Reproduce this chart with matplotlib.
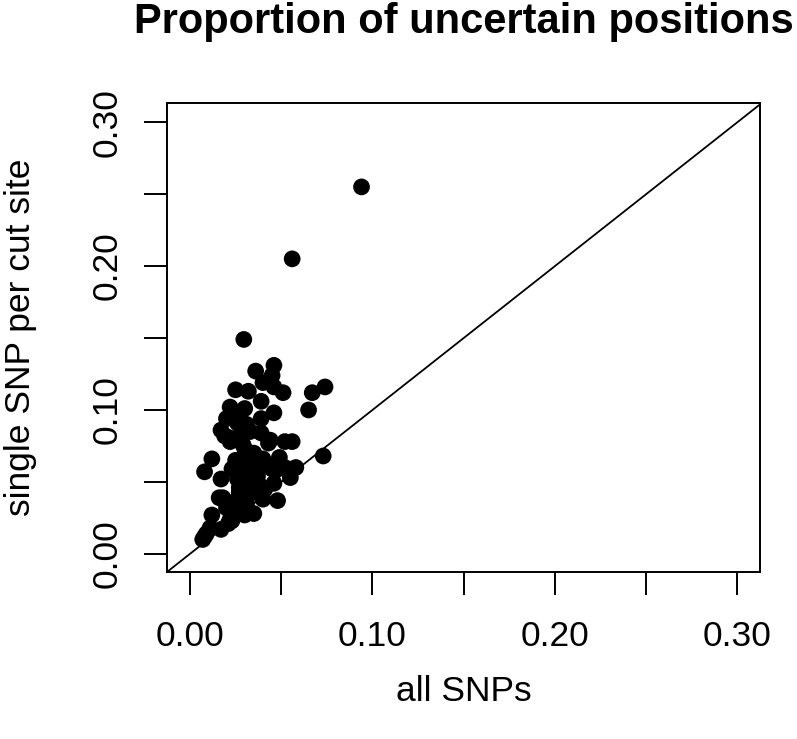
import matplotlib
matplotlib.use("Agg")
import matplotlib.pyplot as plt
import numpy as np

all_snps = [0.094, 0.056, 0.0295, 0.036, 0.046, 0.045, 0.040, 0.046, 0.051, 0.025,
            0.032, 0.039, 0.067, 0.074, 0.065, 0.022, 0.030, 0.046, 0.020, 0.027,
            0.039, 0.019, 0.028, 0.022, 0.039, 0.044, 0.052, 0.056, 0.030, 0.030,
            0.040, 0.049, 0.012, 0.008, 0.073, 0.058, 0.055, 0.023, 0.032, 0.045,
            0.017, 0.026, 0.037, 0.046, 0.041, 0.027, 0.032, 0.018, 0.040, 0.048,
            0.031, 0.012, 0.026, 0.035, 0.030, 0.022, 0.017, 0.011, 0.008, 0.009,
            0.028, 0.031, 0.033, 0.029, 0.031, 0.028, 0.033, 0.029, 0.034, 0.030,
            0.027, 0.033, 0.036, 0.038, 0.024, 0.020, 0.029, 0.035, 0.025, 0.042,
            0.017, 0.021, 0.026, 0.043, 0.047, 0.052, 0.016, 0.023, 0.007, 0.021]
single_snp = [0.255, 0.205, 0.149, 0.127, 0.131, 0.124, 0.119, 0.116, 0.112, 0.114,
              0.113, 0.106, 0.112, 0.116, 0.100, 0.102, 0.101, 0.098, 0.094, 0.094,
              0.094, 0.082, 0.083, 0.078, 0.084, 0.079, 0.078, 0.078, 0.073, 0.065,
              0.066, 0.067, 0.066, 0.057, 0.068, 0.060, 0.053, 0.059, 0.057, 0.059,
              0.052, 0.052, 0.054, 0.049, 0.045, 0.046, 0.041, 0.039, 0.038, 0.037,
              0.035, 0.027, 0.031, 0.028, 0.027, 0.024, 0.017, 0.018, 0.012, 0.014,
              0.088, 0.090, 0.085, 0.076, 0.069, 0.061, 0.063, 0.055, 0.050, 0.048,
              0.043, 0.045, 0.060, 0.048, 0.036, 0.032, 0.038, 0.070, 0.065, 0.062,
              0.086, 0.081, 0.091, 0.077, 0.058, 0.060, 0.039, 0.023, 0.010, 0.021]

ticks = [0.00, 0.05, 0.10, 0.15, 0.20, 0.25, 0.30]
tick_labels = ["0.00", "", "0.10", "", "0.20", "", "0.30"]

plt.rcParams['font.family'] = ['Liberation Sans', 'DejaVu Sans']

fig = plt.figure(figsize=(7.97, 7.39), dpi=100)
ax = fig.add_axes([0.2095, 0.226, 0.744, 0.635])

ax.scatter(all_snps, single_snp, s=145, color='black', edgecolors='none', zorder=3)
xlims = (-0.0126, 0.3123)
ylims = (-0.0126, 0.3135)
ax.plot([-0.02, 0.33], [-0.02, 0.33], color='black', lw=1.3, zorder=2)
ax.set_xlim(xlims)
ax.set_ylim(ylims)

ax.set_xticks(ticks)
ax.set_xticklabels(tick_labels)
ax.set_yticks(ticks)
ax.set_yticklabels(tick_labels, rotation=90, va='center')
ax.tick_params(axis='x', length=16.5, width=1.4, labelsize=25.5, pad=18, colors='black')
ax.tick_params(axis='y', length=16.5, width=1.4, labelsize=25.5, pad=15, colors='black')
for sp in ax.spines.values():
    sp.set_linewidth(1.4)

ax.set_xlabel("all SNPs", fontsize=25.5, labelpad=16)
ax.set_ylabel("single SNP per cut site", fontsize=25.5, labelpad=38)
ax.set_title("Proportion of uncertain positions", fontsize=30, fontweight='bold', pad=50)

fig.savefig("out.png", dpi=100)
